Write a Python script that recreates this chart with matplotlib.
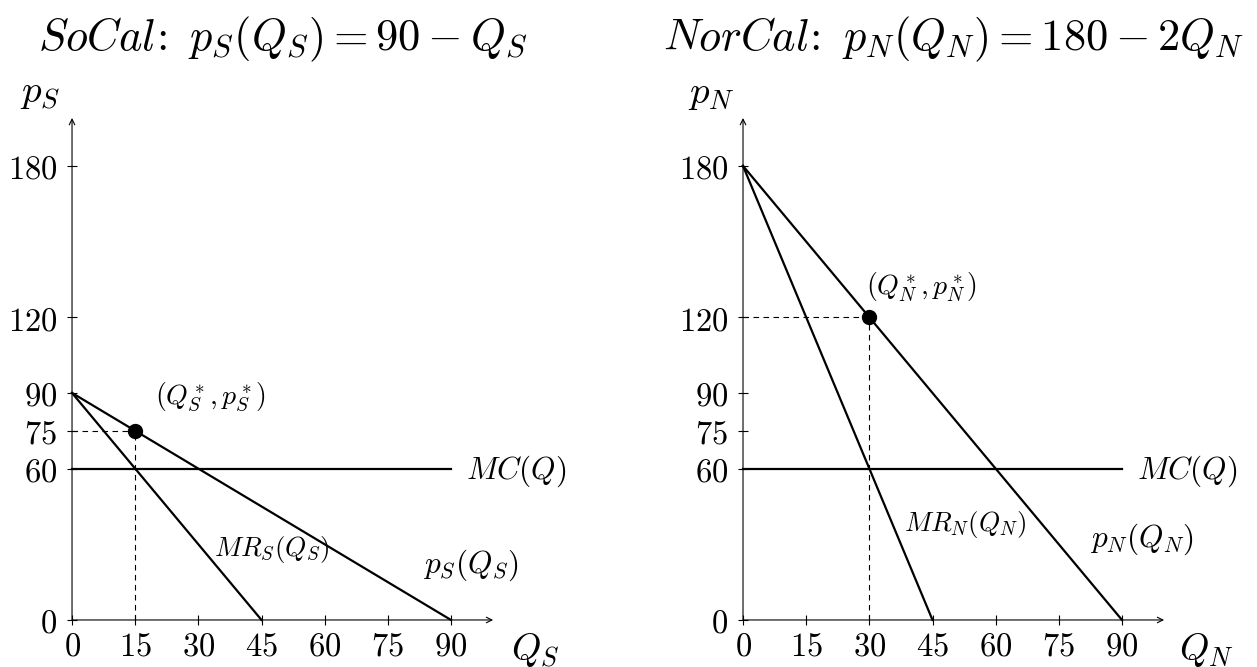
import matplotlib
matplotlib.use("Agg")
import matplotlib.pyplot as plt

plt.rcParams["mathtext.fontset"] = "cm"

# SoCal market
q_s = [0, 90]
p_s = [90, 0]
mr_s_q = [0, 45]
mr_s_p = [90, 0]
opt_s = (15, 75)

# NorCal market
q_n = [0, 90]
p_n = [180, 0]
mr_n_q = [0, 45]
mr_n_p = [180, 0]
opt_n = (30, 120)

mc = 60
mc_q = [0, 90]

x_ticks = [0, 15, 30, 45, 60, 75, 90]
y_ticks = [0, 60, 75, 90, 120, 180]


def draw_market(ax, q, p, mr_q, mr_p, opt, sub, title, mr_pos, d_pos, star_pos):
    ax.set_xlim(0, 100)
    ax.set_ylim(0, 199)
    for s in ax.spines.values():
        s.set_visible(False)

    # axes with arrow heads
    ax.annotate("", xy=(100, 0), xytext=(0, 0), annotation_clip=False,
                arrowprops=dict(arrowstyle="->", lw=0.8, color="black", shrinkA=0, shrinkB=0))
    ax.annotate("", xy=(0, 199), xytext=(0, 0), annotation_clip=False,
                arrowprops=dict(arrowstyle="->", lw=0.8, color="black", shrinkA=0, shrinkB=0))

    ax.set_xticks(x_ticks)
    ax.set_xticklabels([f"${v}$" for v in x_ticks])
    ax.set_yticks(y_ticks)
    ax.set_yticklabels([f"${v}$" for v in y_ticks])
    ax.tick_params(axis="both", direction="inout", length=7, width=0.8, labelsize=23.5)
    ax.tick_params(axis="x", pad=3)
    ax.tick_params(axis="y", pad=7)

    ax.plot(q, p, color="black", lw=1.6, clip_on=False)
    ax.plot(mr_q, mr_p, color="black", lw=1.6, clip_on=False)
    ax.plot(mc_q, [mc, mc], color="black", lw=1.6, clip_on=False)

    ax.plot([0, opt[0]], [opt[1], opt[1]], color="black", lw=0.8, ls=(0, (5, 4)))
    ax.plot([opt[0], opt[0]], [0, opt[1]], color="black", lw=0.8, ls=(0, (5, 4)))
    ax.plot(*opt, "o", color="black", markersize=10, zorder=5)

    ax.text(105.5, 59, r"$MC(Q)$", fontsize=22.5, ha="center", va="center")
    ax.text(*mr_pos, rf"$MR_{sub}(Q_{sub})$", fontsize=19.5, ha="center", va="center")
    ax.text(*d_pos, rf"$p_{sub}(Q_{sub})$", fontsize=22.5, ha="center", va="center")
    ax.text(*star_pos, rf"$(Q^*_{sub}, p^*_{sub})$", fontsize=20, ha="center", va="center")

    ax.text(110, -12, rf"$Q_{sub}$", fontsize=27, ha="center", va="center", clip_on=False)
    ax.text(-7.5, 209, rf"$p_{sub}$", fontsize=28, ha="center", va="center", clip_on=False)
    ax.text(50, 230, title, fontsize=32, ha="center", va="center", clip_on=False)


fig = plt.figure(figsize=(12.57, 6.67), dpi=100)
ax1 = fig.add_axes([0.0573, 0.0705, 0.335, 0.7526])
ax2 = fig.add_axes([0.5911, 0.0705, 0.335, 0.7526])

draw_market(ax1, q_s, p_s, mr_s_q, mr_s_p, opt_s, "S",
            r"$\mathit{SoCal\!:}\ p_S(Q_S) = 90 - Q_S$",
            (47.5, 27.8), (94.8, 21.8), (33, 88.4))
draw_market(ax2, q_n, p_n, mr_n_q, mr_n_p, opt_n, "N",
            r"$\mathit{NorCal\!:}\ p_N(Q_N) = 180 - 2Q_N$",
            (52.7, 38), (94.8, 32), (42.5, 132))

fig.savefig("out.png", dpi=100, facecolor="white")
